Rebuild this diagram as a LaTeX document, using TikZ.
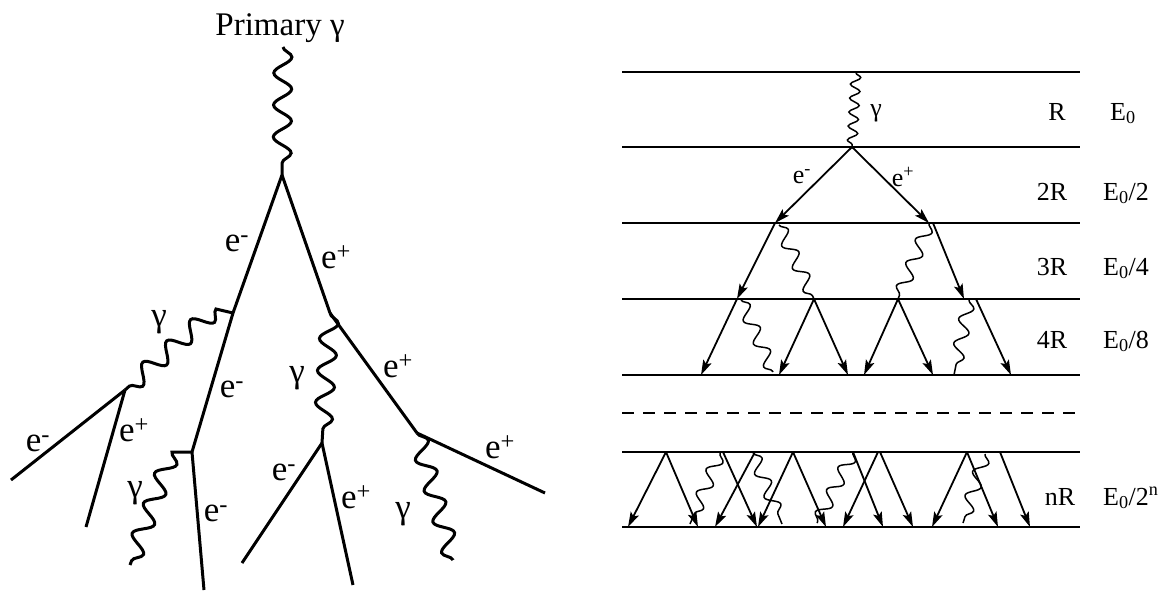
\documentclass[tikz,border=0pt]{standalone}
\usepackage{fontspec}
\setmainfont{Liberation Serif}
\usetikzlibrary{arrows.meta,decorations.pathmorphing}
\begin{document}
\begin{tikzpicture}[x=1pt,y=-1pt,
  eline/.style={line width=3pt},
  snakeL/.style={decoration={snake,amplitude=9pt,segment length=32pt}},
  snakeM/.style={decoration={snake,amplitude=6.5pt,segment length=25pt}},
  snakeS/.style={decoration={snake,amplitude=5pt,segment length=14pt}},
  photonL/.style={line width=3pt,decorate,snakeL},
  photonM/.style={line width=1.5pt,decorate,snakeM},
  photonS/.style={line width=1.5pt,decorate,snakeS},
  level/.style={line width=1.8pt},
  dashlevel/.style={line width=1.8pt,dash pattern=on 12pt off 9pt},
  arr/.style={line width=1.8pt,-{Stealth[length=15pt,width=9pt,inset=3pt]}},
  bigtxt/.style={font=\fontsize{35}{40}\selectfont,inner sep=0pt},
  titletxt/.style={font=\fontsize{33}{40}\selectfont,inner sep=0pt},
  smalltxt/.style={font=\fontsize{26}{31}\selectfont,inner sep=0pt},
]
\useasboundingbox (0,0) rectangle (1160,592);

% ---------------- left panel ----------------
\coordinate (P0) at (283,47);
\coordinate (V0) at (282,175);
\coordinate (V1) at (233,313);
\coordinate (V1a) at (216,309);
\coordinate (V2) at (125,390);
\coordinate (V3) at (192,452);
\coordinate (V3a) at (172,452);
\coordinate (V4) at (330,313);
\coordinate (V5) at (322,443);
\coordinate (V6) at (417,433);
\coordinate (E1) at (11,480);
\coordinate (E2) at (86,527);
\coordinate (E3) at (130,565);
\coordinate (E4) at (204,590);
\coordinate (E5) at (242,563);
\coordinate (E6) at (353,585);
\coordinate (E7) at (545,493);
\coordinate (E8) at (453,560);

\node[titletxt,anchor=base] (title) at (280,35) {Primary γ};
\draw[photonL] (P0) -- (V0);
\draw[eline] (V0) -- (V1);
\draw[eline] (V1) -- (V3);
\draw[eline] (V0) -- (V4);
\draw[eline] (V4) -- (V6);
\draw[eline] (V1) -- (V1a) decorate[snakeL]{-- (V2)};
\draw[eline] (V2) -- (E1);
\draw[eline] (V2) -- (E2);
\draw[eline] (V3) -- (V3a) decorate[snakeL]{-- (E3)};
\draw[eline] (V3) -- (E4);
\draw[photonL] (V4) -- (V5);
\draw[eline] (V5) -- (E5);
\draw[eline] (V5) -- (E6);
\draw[eline] (V6) -- (E7);
\draw[photonL] (V6) -- (E8);

\node[bigtxt] (l1) at (237,243) {e\textsuperscript{-}};
\node[bigtxt] (l2) at (336,257) {e\textsuperscript{+}};
\node[bigtxt] (l3) at (159,322) {γ};
\node[bigtxt] (l4) at (232,389) {e\textsuperscript{-}};
\node[bigtxt] (l5) at (38,443) {e\textsuperscript{-}};
\node[bigtxt] (l6) at (134,430) {e\textsuperscript{+}};
\node[bigtxt] (l7) at (135,493) {γ};
\node[bigtxt] (l8) at (216,513) {e\textsuperscript{-}};
\node[bigtxt] (l9) at (297,378) {γ};
\node[bigtxt] (l10) at (398,366) {e\textsuperscript{+}};
\node[bigtxt] (l11) at (284,472) {e\textsuperscript{-}};
\node[bigtxt] (l12) at (356,497) {e\textsuperscript{+}};
\node[bigtxt] (l13) at (403,514) {γ};
\node[bigtxt] (l14) at (500,447) {e\textsuperscript{+}};

% ---------------- right panel ----------------
\foreach \n/\y in {1/72,2/147,3/223,4/299,5/375,6/452,7/527}{
  \coordinate (La\n) at (622,\y);
  \coordinate (Lb\n) at (1080,\y);
  \draw[level] (La\n) -- (Lb\n);
}
\coordinate (Da) at (622,413);
\coordinate (Db) at (1080,413);
\draw[dashlevel] (Da) -- (Db);

% level 1
\coordinate (G0) at (856,73);
\coordinate (W0) at (852,147);
\draw[photonS] (G0) -- (W0);
\node[smalltxt] (g0) at (876,113) {γ};
% level 2
\coordinate (A1) at (775,223);
\coordinate (A2) at (929,223);
\draw[arr] (W0) -- (A1);
\draw[arr] (W0) -- (A2);
\node[smalltxt] (em0) at (802,177) {e\textsuperscript{-}};
\node[smalltxt] (ep0) at (903,177) {e\textsuperscript{+}};
% level 3
\coordinate (A1p) at (779,225);
\coordinate (A2p) at (933,223);
\coordinate (B1) at (737,299);
\coordinate (B2) at (814,299);
\coordinate (B3) at (898,299);
\coordinate (B4) at (964,299);
\draw[arr] (A1) -- (B1);
\draw[photonM] (A1p) -- (B2);
\draw[photonM] (A2) -- (B3);
\draw[arr] (A2p) -- (B4);
% level 4
\coordinate (B1p) at (741,300);
\coordinate (B4p) at (969,300);
\coordinate (B4q) at (976,299);
\coordinate (C1) at (701,375);
\coordinate (C2) at (773,372);
\coordinate (C3) at (779,375);
\coordinate (C4) at (848,375);
\coordinate (C5) at (864,375);
\coordinate (C6) at (933,375);
\coordinate (C7) at (954,375);
\coordinate (C8) at (1011,375);
\draw[arr] (B1) -- (C1);
\draw[photonM] (B1p) -- (C2);
\draw[arr] (B2) -- (C3);
\draw[arr] (B2) -- (C4);
\draw[arr] (B3) -- (C5);
\draw[arr] (B3) -- (C6);
\draw[photonM] (B4p) -- (C7);
\draw[arr] (B4q) -- (C8);
% level n
\coordinate (D1) at (666,452);
\coordinate (D2) at (720,453);
\coordinate (D3) at (723,452);
\coordinate (D4) at (755,452);
\coordinate (D5) at (753,453);
\coordinate (D6) at (793,452);
\coordinate (D7) at (853,452);
\coordinate (D8) at (878,452);
\coordinate (D9) at (880,452);
\coordinate (D10) at (967,452);
\coordinate (D11) at (985,454);
\coordinate (D12) at (1000,452);
\coordinate (F1) at (628,527);
\coordinate (F2) at (698,527);
\coordinate (F3) at (690,524);
\coordinate (F4) at (757,527);
\coordinate (F5) at (715,527);
\coordinate (F6) at (782,524);
\coordinate (F7) at (758,527);
\coordinate (F8) at (826,527);
\coordinate (F9) at (817,523);
\coordinate (F10) at (883,527);
\coordinate (F11) at (843,527);
\coordinate (F12) at (913,527);
\coordinate (F13) at (932,527);
\coordinate (F14) at (998,527);
\coordinate (F15) at (963,523);
\coordinate (F16) at (1030,527);
\draw[arr] (D1) -- (F1);
\draw[arr] (D1) -- (F2);
\draw[photonM] (D2) -- (F3);
\draw[arr] (D3) -- (F4);
\draw[arr] (D4) -- (F5);
\draw[photonM] (D5) -- (F6);
\draw[arr] (D6) -- (F7);
\draw[arr] (D6) -- (F8);
\draw[photonM] (D7) -- (F9);
\draw[arr] (D7) -- (F10);
\draw[arr] (D8) -- (F11);
\draw[arr] (D9) -- (F12);
\draw[arr] (D10) -- (F13);
\draw[arr] (D10) -- (F14);
\draw[photonM] (D11) -- (F15);
\draw[arr] (D12) -- (F16);

% labels
\node[smalltxt,anchor=base] (r1) at (1057,120) {R};
\node[smalltxt,anchor=base west] (s1) at (1110,120) {E\textsubscript{0}};
\node[smalltxt,anchor=base] (r2) at (1052,200) {2R};
\node[smalltxt,anchor=base west] (s2) at (1103,200) {E\textsubscript{0}/2};
\node[smalltxt,anchor=base] (r3) at (1052,275) {3R};
\node[smalltxt,anchor=base west] (s3) at (1103,275) {E\textsubscript{0}/4};
\node[smalltxt,anchor=base] (r4) at (1052,348) {4R};
\node[smalltxt,anchor=base west] (s4) at (1103,348) {E\textsubscript{0}/8};
\node[smalltxt,anchor=base] (r5) at (1060,505) {nR};
\node[smalltxt,anchor=base west] (s5) at (1103,505) {E\textsubscript{0}/2\textsuperscript{n}};
\end{tikzpicture}
\end{document}
